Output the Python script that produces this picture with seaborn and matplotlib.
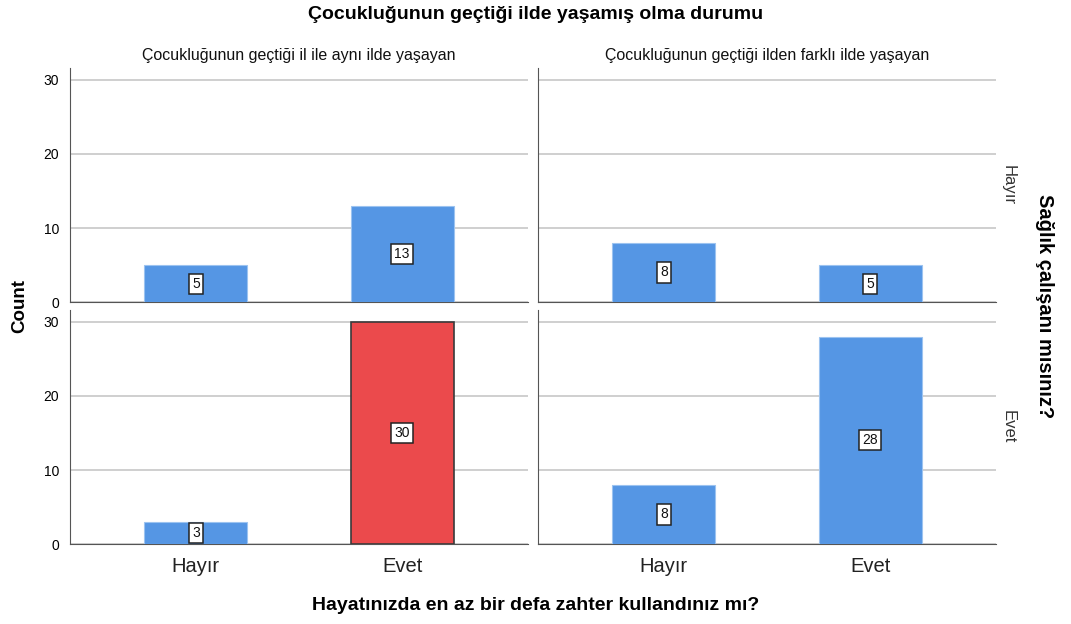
import pandas as pd
import seaborn as sns
import matplotlib.pyplot as plt

# data
col_levels = ['Çocukluğunun geçtiği il ile aynı ilde yaşayan',
              'Çocukluğunun geçtiği ilden farklı ilde yaşayan']
row_levels = ['Hayır', 'Evet']          # Sağlık çalışanı mısınız?
x_levels = ['Hayır', 'Evet']            # zahter kullandınız mı?

counts_same_hayir = [5, 13]
counts_diff_hayir = [8, 5]
counts_same_evet = [3, 30]
counts_diff_evet = [8, 28]

rows = []
for r, c, vals in [('Hayır', col_levels[0], counts_same_hayir),
                   ('Hayır', col_levels[1], counts_diff_hayir),
                   ('Evet', col_levels[0], counts_same_evet),
                   ('Evet', col_levels[1], counts_diff_evet)]:
    for x, v in zip(x_levels, vals):
        rows.append({'row': r, 'col': c, 'x': x, 'count': v})
df = pd.DataFrame(rows)

sns.set_style('white')
plt.rcParams['font.family'] = ['Liberation Sans', 'DejaVu Sans']
plt.rcParams['text.color'] = 'black'

BLUE = '#5596E4'
RED = '#EB4A4C'

fig, axes = plt.subplots(2, 2, figsize=(10.71, 6.24), dpi=100, sharex=True, sharey=True)
plt.subplots_adjust(left=0.0654, right=0.930, top=0.891, bottom=0.128,
                    wspace=0.022, hspace=0.034)

for i, r in enumerate(row_levels):
    for j, c in enumerate(col_levels):
        ax = axes[i, j]
        sub = df[(df['row'] == r) & (df['col'] == c)]
        sns.barplot(data=sub, x='x', y='count', order=x_levels, ax=ax,
                    color=BLUE, width=0.5, saturation=1, edgecolor='#9cc3f0',
                    linewidth=0.8, zorder=3)
        for p, v in zip(ax.patches, sub['count']):
            # highlighted cell
            if r == 'Evet' and c == col_levels[0] and v == max(sub['count']):
                p.set_facecolor(RED)
                p.set_edgecolor('#3a3a3a')
                p.set_linewidth(1.2)
            ax.text(p.get_x() + p.get_width() / 2, v / 2, str(v),
                    ha='center', va='center', fontsize=10, zorder=5, color='#111111',
                    bbox=dict(boxstyle='square,pad=0.22', fc='white',
                              ec='#222222', lw=1.1))
        ax.set_xlim(-0.61, 1.61)
        ax.set_ylim(0, 31.6)
        ax.set_yticks([0, 10, 20, 30])
        ax.yaxis.grid(True, color='#cfcfcf', linewidth=1.4, zorder=0)
        ax.set_axisbelow(True)
        for s in ['top', 'right']:
            ax.spines[s].set_visible(False)
        ax.spines['left'].set_color('#555555')
        ax.spines['bottom'].set_color('#555555')
        ax.tick_params(axis='both', length=0)
        ax.tick_params(axis='y', labelsize=10, pad=8, colors='black')
        ax.tick_params(axis='x', labelsize=14.5, pad=9, colors='#222222')
        ax.set_xlabel('')
        ax.set_ylabel('')
        if i == 0:
            ax.set_title(c, fontsize=11.5, pad=6, color='#111111')
        if j == 1:
            ax.text(1.01, 0.5, r, transform=ax.transAxes, rotation=-90,
                    ha='left', va='center', fontsize=12, color='#333333')

fig.text(0.5, 0.977, 'Çocukluğunun geçtiği ilde yaşamış olma durumu',
         ha='center', va='center', fontsize=14, fontweight='bold')
fig.text(0.5, 0.03, 'Hayatınızda en az bir defa zahter kullandınız mı?',
         ha='center', va='center', fontsize=14, fontweight='bold')
fig.text(0.018, 0.51, 'Count', rotation=90, ha='center', va='center',
         fontsize=13.5, fontweight='bold')
fig.text(0.975, 0.51, 'Sağlık çalışanı mısınız?', rotation=-90,
         ha='center', va='center', fontsize=14.5, fontweight='bold')

plt.savefig('out.png', dpi=100)
